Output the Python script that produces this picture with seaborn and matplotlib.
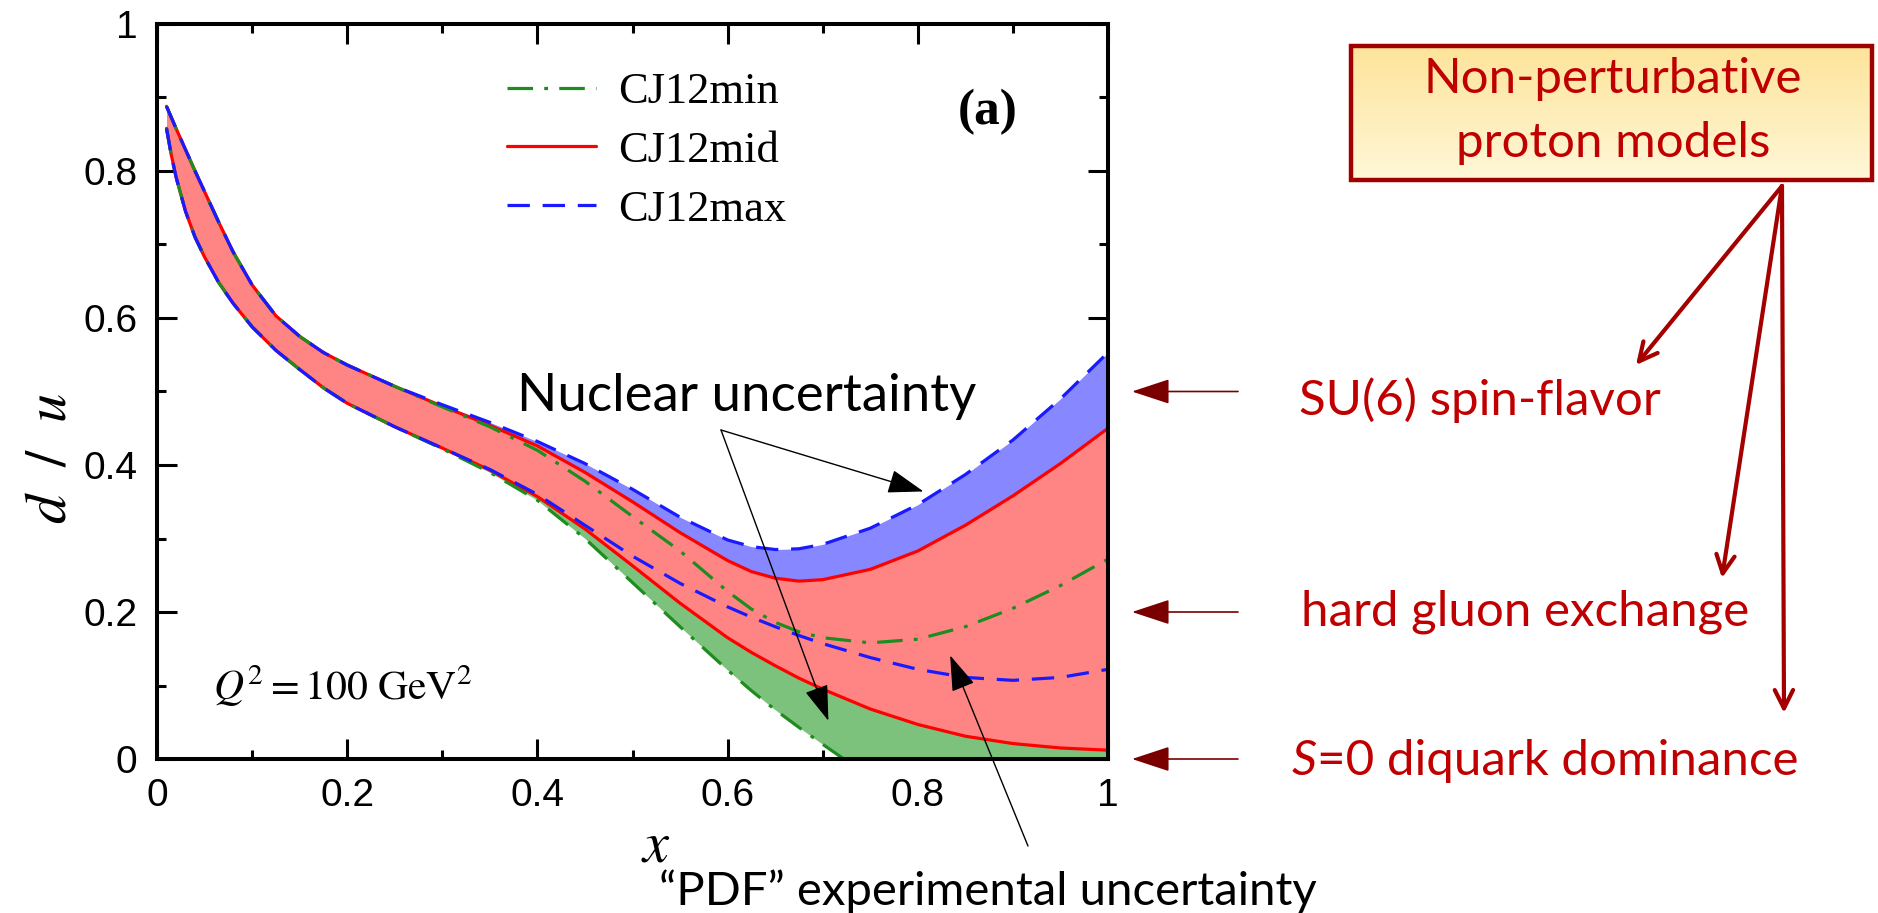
import numpy as np
import pandas as pd
import matplotlib
matplotlib.use("Agg")
import matplotlib.pyplot as plt
import seaborn as sns
from matplotlib.lines import Line2D
from matplotlib.patches import Rectangle, FancyArrowPatch
from matplotlib.colors import LinearSegmentedColormap
from matplotlib.ticker import MultipleLocator, FuncFormatter

# ---- d/u ratio bands at Q^2 = 100 GeV^2 -------------------------------
x_vals = [0.01, 0.015, 0.02, 0.03, 0.04, 0.05, 0.065, 0.08, 0.10, 0.125,
          0.15, 0.175, 0.20, 0.25, 0.30, 0.35, 0.40, 0.45, 0.50, 0.55, 0.60,
          0.625, 0.65, 0.675, 0.70, 0.75, 0.80, 0.85, 0.90, 0.95, 1.00]

# CJ12max (blue band)
max_upper = [0.888, 0.873, 0.858, 0.829, 0.800, 0.772, 0.730, 0.690, 0.645,
             0.603, 0.575, 0.553, 0.536, 0.507, 0.482, 0.458, 0.432, 0.402,
             0.367, 0.329, 0.298, 0.289, 0.285, 0.286, 0.292, 0.314, 0.346,
             0.387, 0.434, 0.490, 0.553]
max_lower = [0.858, 0.822, 0.792, 0.745, 0.710, 0.683, 0.648, 0.620, 0.588,
             0.556, 0.530, 0.505, 0.484, 0.452, 0.423, 0.394, 0.360, 0.318,
             0.276, 0.239, 0.207, 0.193, 0.180, 0.168, 0.157, 0.138, 0.122,
             0.111, 0.107, 0.111, 0.122]

# CJ12mid (red band)
mid_upper = [0.888, 0.873, 0.858, 0.829, 0.800, 0.772, 0.730, 0.690, 0.645,
             0.603, 0.575, 0.553, 0.536, 0.507, 0.480, 0.454, 0.426, 0.390,
             0.350, 0.308, 0.270, 0.255, 0.246, 0.242, 0.244, 0.258, 0.283,
             0.318, 0.358, 0.402, 0.450]
mid_lower = [0.858, 0.822, 0.792, 0.745, 0.710, 0.683, 0.648, 0.620, 0.588,
             0.556, 0.530, 0.505, 0.484, 0.452, 0.423, 0.393, 0.357, 0.313,
             0.263, 0.212, 0.165, 0.145, 0.127, 0.110, 0.095, 0.068, 0.047,
             0.031, 0.021, 0.015, 0.012]

# CJ12min (green band)
min_upper = [0.888, 0.873, 0.858, 0.829, 0.800, 0.772, 0.730, 0.690, 0.645,
             0.603, 0.575, 0.553, 0.536, 0.507, 0.479, 0.452, 0.420, 0.378,
             0.330, 0.283, 0.228, 0.204, 0.186, 0.173, 0.165, 0.158, 0.163,
             0.180, 0.205, 0.236, 0.272]
min_lower = [0.858, 0.822, 0.792, 0.745, 0.710, 0.683, 0.648, 0.620, 0.588,
             0.556, 0.530, 0.505, 0.484, 0.452, 0.422, 0.390, 0.352, 0.300,
             0.240, 0.180, 0.121, 0.093, 0.067, 0.043, 0.020, -0.025, -0.068,
             -0.110, -0.150, -0.190, -0.230]

set_names = ["CJ12min", "CJ12mid", "CJ12max"]
x_ticks = [0, 0.2, 0.4, 0.6, 0.8, 1.0]
y_ticks = [0, 0.2, 0.4, 0.6, 0.8, 1.0]

# model predictions for d/u as x -> 1
model_labels = ["SU(6) spin-flavor", "hard gluon exchange", "=0 diquark dominance"]
model_values = [0.5, 0.2, 0.0]

# ---- styling -----------------------------------------------------------
sns.set_theme(style="ticks")
plt.rcParams["font.family"] = ["Liberation Sans", "DejaVu Sans"]
plt.rcParams["mathtext.fontset"] = "stix"

W, H = 1878, 913


def fx(px):
    return px / W


def fy(py):
    return 1 - py / H


colors = {"CJ12min": "#1E8C1E", "CJ12mid": "#FF0000", "CJ12max": "#1A1AFF"}
fills = {"CJ12min": "#7CC27C", "CJ12mid": "#FF8585", "CJ12max": "#8787FF"}
styles = {"CJ12min": (0, (8, 3.5, 1.2, 3.5)), "CJ12mid": "-",
          "CJ12max": (0, (7, 4))}
LW = 2.3

bands = {
    "CJ12max": (max_upper, max_lower),
    "CJ12min": (min_upper, min_lower),
    "CJ12mid": (mid_upper, mid_lower),
}

rows = []
for name, (up, lo) in bands.items():
    for xv, u, l in zip(x_vals, up, lo):
        rows.append({"x": xv, "set": name, "edge": "upper", "du": u})
        rows.append({"x": xv, "set": name, "edge": "lower", "du": l})
df = pd.DataFrame(rows)

fig = plt.figure(figsize=(W / 100, H / 100), dpi=100)
ax = fig.add_axes([fx(157), fy(759), (1108 - 157) / W, (759 - 24) / H])

# filled bands: max, then min, then mid on top
for z, name in enumerate(["CJ12max", "CJ12min", "CJ12mid"]):
    up = df[(df.set == name) & (df.edge == "upper")]
    lo = df[(df.set == name) & (df.edge == "lower")]
    ax.fill_between(up.x.values, lo.du.values, up.du.values,
                    color=fills[name], lw=0, zorder=1 + 0.1 * z)

# band edges
for name in ["CJ12mid", "CJ12min", "CJ12max"]:
    for edge in ["upper", "lower"]:
        sub = df[(df.set == name) & (df.edge == edge)]
        sns.lineplot(data=sub, x="x", y="du", ax=ax, color=colors[name],
                     linestyle=styles[name], lw=LW, legend=False,
                     estimator=None, sort=True, zorder=3)

ax.set_xlim(0, 1)
ax.set_ylim(0, 1)
ax.xaxis.set_minor_locator(MultipleLocator(0.1))
ax.yaxis.set_minor_locator(MultipleLocator(0.1))
ax.set_xticks(x_ticks)
ax.set_yticks(y_ticks)
fmt = FuncFormatter(lambda v, p: f"{v:g}")
ax.xaxis.set_major_formatter(fmt)
ax.yaxis.set_major_formatter(fmt)
ax.tick_params(which="both", direction="in", top=True, right=True,
               width=2.2, color="black", labelsize=28, pad=14,
               labelcolor="black")
ax.tick_params(which="major", length=14.5)
ax.tick_params(which="minor", length=6.5)
for s in ax.spines.values():
    s.set_linewidth(2.9)
    s.set_color("black")
    s.set_zorder(5)
ax.set_facecolor("white")

ax.set_xlabel(r"$x$", fontsize=42, color="black")
ax.set_ylabel(r"$d\ \ /\ \ u$", fontsize=42, color="black")
ax.xaxis.set_label_coords((656 - 157) / 951, (759 - 846) / 735)
ax.xaxis.label.set_va("center")
ax.yaxis.set_label_coords((50 - 157) / 951, (759 - 458) / 735)
ax.yaxis.label.set_va("center")

# legend
handles = [Line2D([], [], color=colors[n], linestyle=styles[n], lw=LW)
           for n in set_names]
leg = ax.legend(handles, set_names, loc="upper left",
                bbox_to_anchor=(fx(507), fy(72)),
                bbox_transform=fig.transFigure, frameon=False,
                prop={"family": "Liberation Serif", "size": 32},
                handlelength=2.0, handletextpad=0.5, labelspacing=0.42,
                borderpad=0, borderaxespad=0)
for t in leg.get_texts():
    t.set_color("black")

fig.text(fx(1018), fy(124), "(a)", ha="right", va="baseline",
         family="Liberation Serif", weight="bold", fontsize=37,
         color="black")

fig.text(fx(213), fy(700), r"$Q^2 = 100\ \mathrm{GeV}^2$", ha="left",
         va="baseline", fontsize=30, color="black")

# ---- annotations -------------------------------------------------------
SANS = ["Lato", "DejaVu Sans"]
TSIZE = 35.5
DARK = "#C00000"

black_arrow = dict(arrowstyle="-|>,head_length=0.75,head_width=0.25",
                   color="black", lw=1.0, shrinkA=0, shrinkB=0,
                   mutation_scale=30)

fig.text(fx(747), fy(411), "Nuclear uncertainty", ha="center",
         va="baseline", family=SANS, fontsize=38, color="black")
for tip in [(0.806, 0.364), (0.706, 0.052)]:
    ax.annotate("", xy=tip, xycoords="data",
                xytext=(fx(721), fy(430)), textcoords="figure fraction",
                arrowprops=black_arrow, annotation_clip=False, zorder=6)

fig.text(fx(988), fy(905), "\u201cPDF\u201d experimental uncertainty",
         ha="center", va="baseline", family=SANS, fontsize=34,
         color="black")
ax.annotate("", xy=(0.834, 0.141), xycoords="data",
            xytext=(fx(1028), fy(846)), textcoords="figure fraction",
            arrowprops=black_arrow, annotation_clip=False, zorder=6)

# model arrows pointing at the d/u axis values
red_arrow = dict(arrowstyle="-|>,head_length=0.85,head_width=0.28",
                 color="#7A0000", lw=1.2, shrinkA=0, shrinkB=0,
                 mutation_scale=28)
for yv in model_values:
    ax.annotate("", xy=(fx(1132), yv), xycoords=("figure fraction", "data"),
                xytext=(fx(1238), yv), textcoords=("figure fraction", "data"),
                arrowprops=red_arrow, annotation_clip=False)

fig.text(fx(1299), fy(415), model_labels[0], ha="left", va="baseline",
         family=SANS, fontsize=TSIZE, color=DARK)
fig.text(fx(1301), fy(625), model_labels[1], ha="left", va="baseline",
         family=SANS, fontsize=TSIZE, color=DARK)
s_txt = fig.text(fx(1292), fy(775), "S", ha="left", va="baseline",
                 family=SANS, style="italic", fontsize=TSIZE, color=DARK)
ax.annotate(model_labels[2], xy=(1, 0), xycoords=s_txt, ha="left",
            va="bottom", family=SANS, fontsize=TSIZE, color=DARK,
            annotation_clip=False)

# gradient title box
bx0, bx1, by0, by1 = 1351, 1872, 46, 180
bax = fig.add_axes([fx(bx0), fy(by1), (bx1 - bx0) / W, (by1 - by0) / H])
grad = np.linspace(0, 1, 256).reshape(-1, 1)
cmap = LinearSegmentedColormap.from_list("box", ["#FDE49A", "#FFF7D8"])
bax.imshow(grad, aspect="auto", cmap=cmap, extent=[0, 1, 0, 1],
           origin="upper")
bax.set_axis_off()
bax.add_patch(Rectangle((0, 0), 1, 1, transform=bax.transAxes, fill=False,
                        edgecolor="#A00000", lw=3.2, clip_on=False))
fig.text(fx(1613), fy(93), "Non-perturbative", ha="center", va="baseline",
         family=SANS, fontsize=TSIZE, color=DARK)
fig.text(fx(1613), fy(157), "proton models", ha="center", va="baseline",
         family=SANS, fontsize=TSIZE, color=DARK)

box_arrow = dict(arrowstyle="->,head_length=0.6,head_width=0.3",
                 color="#A50000", lw=3.0, shrinkA=0, shrinkB=0,
                 mutation_scale=22)
for tip in [(1636, 365), (1722, 578), (1784, 713)]:
    fig.add_artist(FancyArrowPatch(
        (fx(1782), fy(186)), (fx(tip[0]), fy(tip[1])),
        transform=fig.transFigure, **box_arrow))

fig.savefig("out.png", dpi=100, facecolor="white")
